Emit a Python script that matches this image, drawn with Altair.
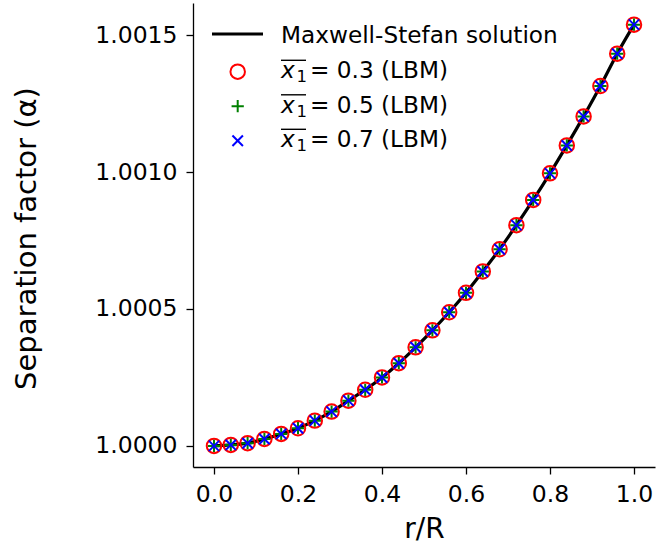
import altair as alt
import pandas as pd

# r/R positions of the samples
r_R = [0.00, 0.04, 0.08, 0.12, 0.16, 0.20, 0.24, 0.28, 0.32, 0.36, 0.40, 0.44, 0.48,
       0.52, 0.56, 0.60, 0.64, 0.68, 0.72, 0.76, 0.80, 0.84, 0.88, 0.92, 0.96, 1.00]

# Maxwell-Stefan solution (separation factor)
alpha_ms = [1.0000000, 1.0000036, 1.0000099, 1.0000255, 1.0000438, 1.0000646, 1.0000923,
            1.0001252, 1.0001653, 1.0002050, 1.0002500, 1.0003020, 1.0003600, 1.0004220,
            1.0004880, 1.0005590, 1.0006370, 1.0007180, 1.0008060, 1.0008980, 1.0009950,
            1.0010970, 1.0012030, 1.0013140, 1.0014320, 1.0015380]

# LBM results for the three mean mole fractions
alpha_lbm_03 = [1.0000000, 1.0000036, 1.0000099, 1.0000255, 1.0000438, 1.0000646, 1.0000923,
                1.0001252, 1.0001653, 1.0002050, 1.0002500, 1.0003020, 1.0003600, 1.0004220,
                1.0004880, 1.0005590, 1.0006370, 1.0007180, 1.0008060, 1.0008980, 1.0009950,
                1.0010970, 1.0012030, 1.0013140, 1.0014320, 1.0015380]
alpha_lbm_05 = list(alpha_lbm_03)
alpha_lbm_07 = list(alpha_lbm_03)

y_ticks = [1.0, 1.0005, 1.001, 1.0015]
x_ticks = [0.0, 0.2, 0.4, 0.6, 0.8, 1.0]
legend_labels = ["Maxwell-Stefan solution", "= 0.3 (LBM)", "= 0.5 (LBM)", "= 0.7 (LBM)"]

FONT = "DejaVu Sans"
W, H = 462, 464

df_ms = pd.DataFrame({"r": r_R, "a": alpha_ms})
df_03 = pd.DataFrame({"r": r_R, "a": alpha_lbm_03})
df_05 = pd.DataFrame({"r": r_R, "a": alpha_lbm_05})
df_07 = pd.DataFrame({"r": r_R, "a": alpha_lbm_07})

xs = alt.Scale(domain=[-0.05, 1.05], nice=False, zero=False)
ys = alt.Scale(domain=[0.999923, 1.001617], nice=False, zero=False)

x_enc = alt.X("r:Q", scale=xs, axis=alt.Axis(
    values=x_ticks, format=".1f", title="r/R", labelPadding=8,
    titleX=W / 2, titleY=70, titleBaseline="alphabetic", titleAlign="center"))
y_enc = alt.Y("a:Q", scale=ys, axis=alt.Axis(
    values=y_ticks, format=".4f", title="Separation factor (α)", labelPadding=9,
    titleX=-158, titleY=H / 2 + 3, titleAngle=270, titleBaseline="alphabetic",
    titleAlign="center", titleFontSize=29))

line = alt.Chart(df_ms).mark_line(color="black", strokeWidth=3.2, interpolate="monotone").encode(
    x=x_enc, y=y_enc)

circ = alt.Chart(df_03).mark_point(shape="circle", size=210, color="#ff0000", filled=False,
                                   strokeWidth=2, opacity=1).encode(x="r:Q", y="a:Q")
plus = alt.Chart(df_05).mark_point(shape="M-1,0L1,0M0,-1L0,1", size=150, color="#008000",
                                   filled=False, strokeWidth=2, opacity=1).encode(x="r:Q", y="a:Q")
cross = alt.Chart(df_07).mark_point(shape="M-1,-1L1,1M-1,1L1,-1", size=110, color="#0000ff",
                                    filled=False, strokeWidth=2, opacity=1).encode(x="r:Q", y="a:Q")

# ---- legend (drawn by hand) ----
one = pd.DataFrame({"k": [0]})
leg = []
leg.append(alt.Chart(one).mark_rule(color="black", strokeWidth=3).encode(
    x=alt.value(19), x2=alt.value(70), y=alt.value(31)))
leg.append(alt.Chart(one).mark_text(text=legend_labels[0], font=FONT, fontSize=23.2,
                                    align="left", baseline="alphabetic", color="black").encode(
    x=alt.value(88), y=alt.value(40)))
marks = [("circle", 210, "#ff0000"), ("M-1,0L1,0M0,-1L0,1", 150, "#008000"),
         ("M-1,-1L1,1M-1,1L1,-1", 110, "#0000ff")]
for i, (shp, sz, col) in enumerate(marks):
    cy = 68.7 + 34.5 * i
    base = 75.3 + 34.5 * i
    leg.append(alt.Chart(one).mark_point(shape=shp, size=sz, color=col, filled=False,
                                         strokeWidth=2, opacity=1).encode(
        x=alt.value(44.7), y=alt.value(cy)))
    leg.append(alt.Chart(one).mark_text(text="x", font=FONT, fontSize=23.2, fontStyle="italic",
                                        align="left", baseline="alphabetic", color="black").encode(
        x=alt.value(88), y=alt.value(base)))
    leg.append(alt.Chart(one).mark_text(text="1", font=FONT, fontSize=16.5,
                                        align="left", baseline="alphabetic", color="black").encode(
        x=alt.value(103.5), y=alt.value(base + 4)))
    leg.append(alt.Chart(one).mark_rule(color="black", strokeWidth=1.4).encode(
        x=alt.value(88), x2=alt.value(113), y=alt.value(base - 18)))
    leg.append(alt.Chart(one).mark_text(text=legend_labels[i + 1], font=FONT, fontSize=23.2,
                                        align="left", baseline="alphabetic", color="black").encode(
        x=alt.value(117), y=alt.value(base)))

chart = alt.layer(line, circ, plus, cross, *leg).properties(
    width=W, height=H,
    background="white",
    padding={"left": 193, "top": 3, "right": 2, "bottom": 78},
    autosize=alt.AutoSizeParams(type="none"),
).configure_view(stroke=None).configure_axis(
    grid=False, domainColor="black", domainWidth=1.3, tickColor="black", tickWidth=1.3,
    tickSize=7, labelFont=FONT, labelFontSize=23.5, labelColor="black", titleFont=FONT,
    titleFontSize=28, titleFontWeight="normal", titleColor="black", labelFlush=False,
    labelOverlap=False,
)

chart.save("out.html", embed_options={"renderer": "svg", "actions": False})
